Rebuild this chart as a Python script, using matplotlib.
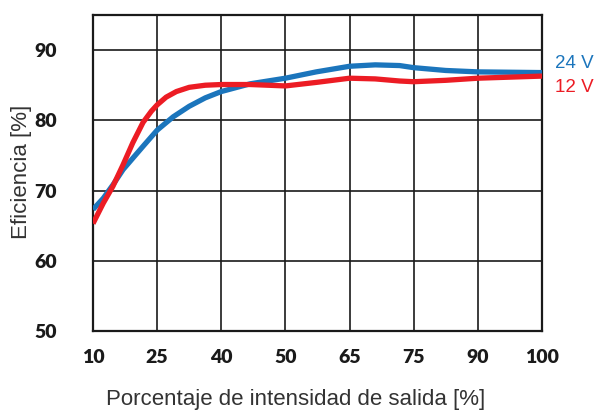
import matplotlib
matplotlib.use("Agg")
import matplotlib.pyplot as plt

# Category labels on the x axis (evenly spaced categories)
x_labels = ["10", "25", "40", "50", "65", "75", "90", "100"]
y_ticks = [50, 60, 70, 80, 90]

# Curves sampled in category-index units
pos_24v = [0, 0.16, 0.31, 0.47, 0.62, 0.78, 1.0, 1.25, 1.5, 1.75, 2.0, 2.45, 3.0, 3.48, 4.0, 4.4, 4.78, 5.0, 5.5, 6.0, 7.0]
eff_24v = [67.3, 68.9, 70.8, 73.0, 74.6, 76.3, 78.6, 80.5, 82.0, 83.2, 84.1, 85.2, 86.0, 86.9, 87.7, 87.9, 87.8, 87.5, 87.1, 86.9, 86.8]

pos_12v = [0, 0.16, 0.31, 0.47, 0.62, 0.78, 0.91, 1.0, 1.14, 1.3, 1.5, 1.75, 2.0, 2.45, 3.0, 3.48, 4.0, 4.4, 4.78, 5.0, 5.5, 6.0, 7.0]
eff_12v = [65.3, 68.2, 70.6, 73.7, 76.8, 79.7, 81.3, 82.2, 83.3, 84.1, 84.7, 85.0, 85.1, 85.1, 84.9, 85.4, 86.0, 85.9, 85.6, 85.5, 85.7, 86.0, 86.3]

BLUE = "#1B75BC"
RED = "#EC1C24"

W, H = 596, 413
fig = plt.figure(figsize=(W / 100, H / 100), dpi=100)
ax = fig.add_axes([93 / W, 1 - 331 / H, 449 / W, 316 / H])

ax.plot(pos_24v, eff_24v, color=BLUE, lw=3.8, solid_capstyle="butt", solid_joinstyle="round", zorder=3)
ax.plot(pos_12v, eff_12v, color=RED, lw=3.8, solid_capstyle="butt", solid_joinstyle="round", zorder=4)

ax.set_xlim(0, len(x_labels) - 1)
ax.set_ylim(50, 95)
ax.set_xticks(range(len(x_labels)))
ax.set_xticklabels(x_labels)
ax.set_yticks(y_ticks)
ax.set_yticklabels([str(v) for v in y_ticks])

ax.grid(True, color="#1a1a1a", lw=1.2, zorder=1)
ax.set_axisbelow(True)
for s in ax.spines.values():
    s.set_color("#1a1a1a")
    s.set_linewidth(1.6)

ax.tick_params(length=0, pad=13)
ax.tick_params(axis="y", pad=26)
for lab in ax.get_xticklabels() + ax.get_yticklabels():
    lab.set_fontfamily("Lato")
    lab.set_fontweight("heavy")
    lab.set_fontsize(14)
    lab.set_color("#1a1a1a")

fig.text(296 / W, 1 - 400 / H, "Porcentaje de intensidad de salida [%]",
         ha="center", va="center", fontsize=16, family="Liberation Sans", color="#333333")
fig.text(22 / W, 1 - 172 / H, "Eficiencia [%]", rotation=90,
         ha="center", va="center", fontsize=16, family="Liberation Sans", color="#333333")

fig.text(555 / W, 1 - 63 / H, "24 V", ha="left", va="center", fontsize=13.5,
         family="Liberation Sans", color=BLUE)
fig.text(555 / W, 1 - 88 / H, "12 V", ha="left", va="center", fontsize=13.5,
         family="Liberation Sans", color=RED)

fig.savefig("out.png", dpi=100, facecolor="white")
